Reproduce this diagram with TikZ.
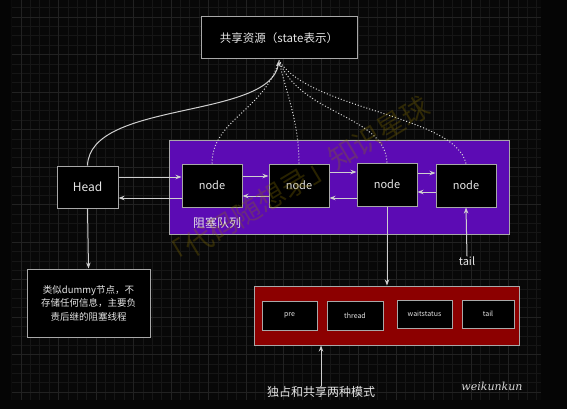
\documentclass[tikz,border=0pt]{standalone}
\usepackage{fontspec}
\setmainfont{Noto Sans CJK SC}
\newfontfamily\handfont{DejaVu Serif}
\usetikzlibrary{arrows.meta,calc}
\definecolor{bgc}{HTML}{050505}
\definecolor{gridbg}{HTML}{080808}
\definecolor{gridminor}{HTML}{161616}
\definecolor{gridmajor}{HTML}{222222}
\definecolor{boxgray}{HTML}{A8A8A8}
\definecolor{linegray}{HTML}{CFCFCF}
\definecolor{txt}{HTML}{E6E6E6}
\definecolor{purp}{HTML}{5C0BB4}
\definecolor{darkred}{HTML}{8C0000}
\definecolor{wmark}{HTML}{8A7400}
\tikzset{
  blackbox/.style={draw=boxgray, fill=black, line width=1pt, text=txt, inner sep=0pt, font=\fontsize{11}{13}\selectfont},
  subbox/.style={blackbox, font=\fontsize{7}{8}\selectfont},
  conn/.style={draw=linegray, line width=1pt, -{Stealth[length=6pt,width=4.5pt]}},
  dotconn/.style={draw=linegray!80, line width=1pt, dotted},
  plainlabel/.style={text=txt, inner sep=0pt, font=\fontsize{11}{13}\selectfont}
}
\begin{document}
\begin{tikzpicture}[x=1pt,y=-1pt]
\fill[bgc] (0,0) rectangle (567,409);
\useasboundingbox (0,0) rectangle (567,409);
% grid
\begin{scope}
\clip (11.6,0) rectangle (541,400);
\fill[gridbg] (11.6,0) rectangle (541,400);
\foreach \i in {0,...,56} {\draw[gridminor, line width=0.5pt] ({11.6+9.375*\i},0) -- ({11.6+9.375*\i},400);}
\foreach \j in {0,...,43} {\draw[gridminor, line width=0.5pt] (11.6,{-1.75+9.375*\j}) -- (541,{-1.75+9.375*\j});}
\foreach \i in {0,...,14} {\draw[gridmajor, line width=0.7pt] ({21+37.5*\i},0) -- ({21+37.5*\i},400);}
\foreach \j in {0,...,10} {\draw[gridmajor, line width=0.7pt] (11.6,{17+37.5*\j}) -- (541,{17+37.5*\j});}
\end{scope}

% nodes
\node[blackbox, minimum width=156, minimum height=42, font=\fontsize{11.5}{13}\selectfont] (res) at (279,38) {共享资源（state表示）};
\node[draw=boxgray, fill=purp, line width=1pt, minimum width=340, minimum height=94, inner sep=0pt] (queue) at (339,187) {};
\node[plainlabel, font=\fontsize{12}{14}\selectfont] (qlabel) at (217,223) {阻塞队列};
\node[blackbox, minimum width=61, minimum height=42, font=\fontsize{12}{14}\selectfont] (head) at (87.5,187) {Head};
\node[blackbox, minimum width=60, minimum height=43] (n1) at (212,185.5) {node};
\node[blackbox, minimum width=60, minimum height=43] (n2) at (299,185.5) {node};
\node[blackbox, minimum width=60, minimum height=43] (n3) at (387,184.5) {node};
\node[blackbox, minimum width=60, minimum height=43] (n4) at (466,185.5) {node};
\node[blackbox, minimum width=123, minimum height=68, align=center, font=\fontsize{9.5}{13.5}\selectfont] (dummy) at (88.5,303) {类似dummy节点，不\\存储任何信息，主要负\\责后继的阻塞线程};
\node[draw=boxgray, fill=darkred, line width=1pt, minimum width=265, minimum height=59, inner sep=0pt] (red) at (386.5,315.5) {};
\node[subbox, minimum width=55, minimum height=29] (pre) at (289.5,315.5) {pre};
\node[subbox, minimum width=56, minimum height=29] (thread) at (355,315.5) {thread};
\node[subbox, minimum width=55, minimum height=28] (wait) at (424.5,314) {waitstatus};
\node[subbox, minimum width=52, minimum height=28] (tailbox) at (488,314) {tail};
\node[plainlabel] (tail) at (467,261) {tail};
\node[plainlabel, font=\fontsize{12}{14}\selectfont] (mode) at (321,392) {独占和共享两种模式};
\node[text=linegray!80, inner sep=0pt, font=\handfont\itshape\fontsize{11}{13}\selectfont] (sig) at (492,386) {weikunkun};

% horizontal links
\draw[conn] (head.east |- 0,177) -- (n1.west |- 0,177);
\draw[conn] (n1.west |- 0,198) -- (head.east |- 0,198);
\draw[conn] (n1.east |- 0,176) -- (n2.west |- 0,176);
\draw[conn] (n2.west |- 0,196) -- (n1.east |- 0,196);
\draw[conn] (n2.east |- 0,172) -- (n3.west |- 0,172);
\draw[conn] (n3.west |- 0,198) -- (n2.east |- 0,198);
\draw[conn] (n3.east |- 0,173) -- (n4.west |- 0,173);
\draw[conn] (n4.west |- 0,192) -- (n3.east |- 0,192);

% vertical links
\draw[conn] (head.south) -- (dummy.north);
\draw[conn] (n3.south) -- (n3.south |- red.north);
\draw[conn] (tail.north) -- (n4.south);
\draw[conn] (mode.north) -- (mode.north |- red.south);

% curves to shared resource
\coordinate (tip) at ($(res.south)+(0,1)$);
\draw[dotconn] (n1.north) .. controls (212,120) and (265,110) .. (tip);
\draw[dotconn] (n2.north) .. controls (299,120) and (285,90) .. (tip);
\draw[dotconn] (n3.north) .. controls (385,115) and (300,115) .. (tip);
\draw[dotconn] (n4.north) .. controls (455,115) and (310,110) .. (tip);
\draw[conn] (head.north) .. controls (90,100) and (270,120) .. (tip);

% watermark
\node[text=wmark, opacity=0.3, rotate=31, inner sep=0pt, font=\fontsize{28}{30}\selectfont] (wm) at (295,183) {「代码随想录」知识星球};
\end{tikzpicture}
\end{document}
